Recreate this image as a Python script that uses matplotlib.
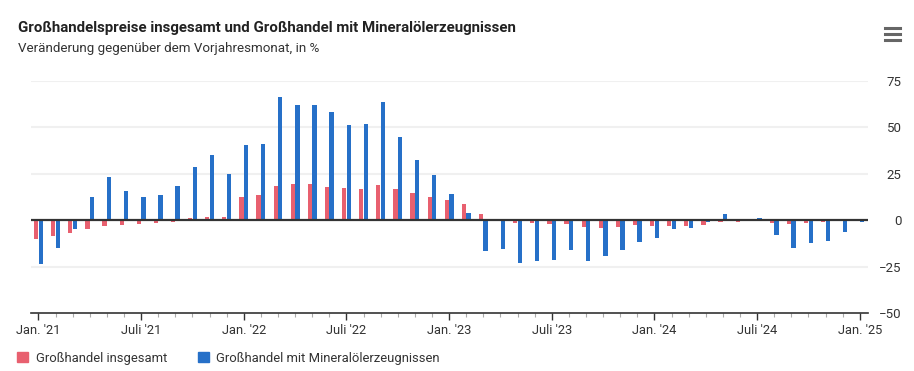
import matplotlib.pyplot as plt
from matplotlib.lines import Line2D
from matplotlib.patches import Patch
import numpy as np

plt.rcParams["font.family"] = ["Liberation Sans Narrow", "Roboto", "DejaVu Sans"]

# Monthly change vs. previous year, Jan 2021 .. Jan 2025
insgesamt = [
    -10.0, -8.4, -6.8, -4.6, -3.0, -2.5, -2.0, -1.4, -0.9, 1.2, 1.8, 1.8,
    12.5, 13.6, 18.4, 19.5, 19.5, 17.9, 17.3, 16.8, 18.9, 16.8, 14.6, 12.5,
    11.0, 8.8, 3.4, 0.7, -1.4, -1.4, -2.0, -2.0, -3.6, -4.1, -3.6, -2.5,
    -3.1, -3.1, -3.1, -2.5, -0.9, -0.9, 0.0, -1.4, -2.0, -1.4, -0.9, 0.0,
    0.4,
]
mineraloel = [
    -23.4, -14.8, -4.6, 12.5, 23.2, 15.7, 12.5, 13.6, 18.4, 28.6, 35.0, 24.8,
    40.4, 40.9, 66.1, 61.8, 61.8, 58.0, 51.1, 51.6, 63.9, 44.6, 32.3, 24.3,
    14.2, 4.0, -16.5, -15.5, -23.0, -21.9, -21.4, -16.0, -21.9, -19.2, -16.0, -11.7,
    -9.5, -4.7, -4.1, -0.9, 3.4, 0.0, 1.3, -7.9, -14.9, -12.2, -11.2, -6.3,
    -0.9,
]
tick_labels = ["Jan. '21", "Juli '21", "Jan. '22", "Juli '22", "Jan. '23",
               "Juli '23", "Jan. '24", "Juli '24", "Jan. '25"]
series_names = ["Großhandel insgesamt", "Großhandel mit Mineralölerzeugnissen"]

RED = "#e8606f"
BLUE = "#2670c8"

fig = plt.figure(figsize=(9.14, 3.71), dpi=100)
ax = fig.add_axes([0.034, 0.156, 0.916, 0.626])

x = np.arange(len(insgesamt))
w = 0.25
ax.bar(x - 0.135, insgesamt, width=w, color=RED, zorder=2)
ax.bar(x + 0.135, mineraloel, width=w, color=BLUE, zorder=2)

ax.axhline(0, color="#333333", linewidth=1.6, zorder=3)
for y in [75, 50, 25, -25]:
    ax.axhline(y, color="#f0f0f0", linewidth=1.5, zorder=0)

ax.set_xlim(-0.43, 48.5)
ax.set_ylim(-50, 75)

# y axis on the right, no spine
ax.yaxis.tick_right()
ax.set_yticks([75, 50, 25, 0, -25, -50])
ax.tick_params(axis="y", length=0, pad=24, labelsize=9.5, labelcolor="#333333")
for lbl in ax.get_yticklabels():
    lbl.set_horizontalalignment("right")

ax.set_xticks(np.arange(0, 49, 6))
ax.set_xticklabels(tick_labels)
ax.set_xticks(x, minor=True)
ax.tick_params(axis="x", which="major", length=5, width=1, color="#333333",
               labelsize=9.3, labelcolor="#333333", pad=3)
ax.tick_params(axis="x", which="minor", length=3, width=0.8, color="#aaaaaa")

for side in ["top", "left", "right"]:
    ax.spines[side].set_visible(False)
ax.spines["bottom"].set_color("#333333")
ax.spines["bottom"].set_linewidth(1.2)

fig.text(0.0197, 0.925, "Großhandelspreise insgesamt und Großhandel mit Mineralölerzeugnissen",
         fontsize=10.8, fontweight="bold", color="#222222", va="center")
fig.text(0.0197, 0.868, "Veränderung gegenüber dem Vorjahresmonat, in %",
         fontsize=9.6, color="#333333", va="center")

# menu icon
for yy in [0.924, 0.908, 0.892]:
    fig.add_artist(Line2D([0.968, 0.985], [yy, yy], color="#666666",
                          linewidth=2.2, transform=fig.transFigure))

handles = [Patch(color=RED), Patch(color=BLUE)]
fig.legend(handles, series_names, loc="center left", bbox_to_anchor=(0.006, 0.035),
           ncol=2, frameon=False, fontsize=9.4, handlelength=0.8, handleheight=0.8,
           handletextpad=0.6, columnspacing=2.4, labelcolor="#333333")

fig.savefig("out.png", dpi=100)
